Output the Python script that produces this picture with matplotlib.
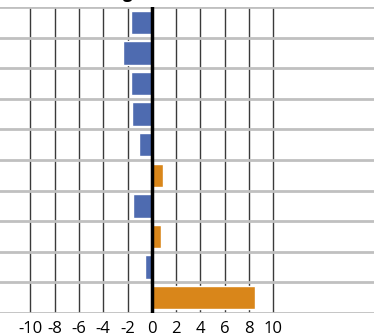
import matplotlib
matplotlib.use("Agg")
import matplotlib.pyplot as plt
import numpy as np

categories = ["A", "B", "C", "D", "E", "F", "G", "H", "I", "J"]
values = [-1.75, -2.4, -1.75, -1.65, -1.05, 0.9, -1.55, 0.72, -0.6, 8.5]
xticks = [-10, -8, -6, -4, -2, 0, 2, 4, 6, 8, 10]

blue = "#4e6bb0"
orange = "#d9861a"

plt.rcParams['font.family'] = ['Open Sans', 'DejaVu Sans']
fig = plt.figure(figsize=(3.74, 3.36), dpi=100)
ax = fig.add_axes([0, 1 - 313 / 336, 1, (313 - 7) / 336])

y = np.arange(len(categories))
colors = [blue if v < 0 else orange for v in values]
ax.barh(y, values, height=0.76, color=colors, edgecolor="white", linewidth=1, zorder=3)

ax.set_ylim(len(categories) - 0.5, -0.5)
ax.set_xlim(-12.5, 18.3)
ax.set_xticks(xticks)
ax.set_xticklabels([str(t) for t in xticks], fontsize=12)
ax.set_yticks([])
for t in xticks:
    if t != 0:
        ax.axvline(t, color="#3a3a3a", linewidth=1, zorder=1)
ax.axvline(0, color="black", linewidth=2.5, zorder=4)
for b in np.arange(-0.5, len(categories), 1.0):
    ax.axhline(b, color="#c0c0c0", linewidth=2, zorder=2)

for s in ax.spines.values():
    s.set_visible(False)
ax.tick_params(axis="x", length=0, pad=6)

fig.text(128 / 374, 1 + 2 / 336, "g", ha="center", va="baseline", fontsize=12,
         fontweight="bold", color="black")

fig.savefig("out.png", dpi=100)
